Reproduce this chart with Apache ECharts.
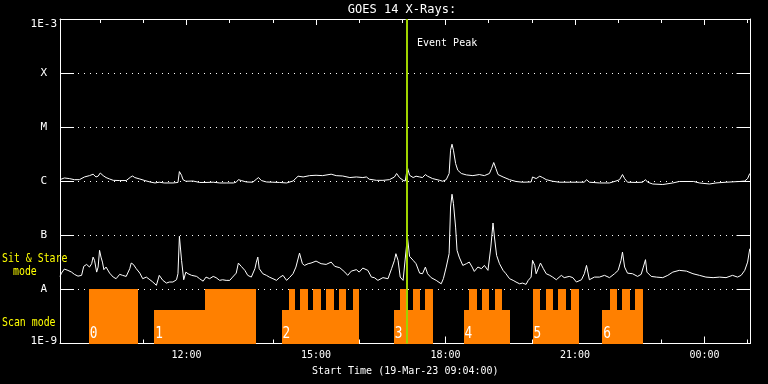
<!DOCTYPE html>
<html><head><meta charset="utf-8">
<script src="https://cdn.jsdelivr.net/npm/echarts@6/dist/echarts.min.js"></script>
<style>html,body{margin:0;padding:0;background:#000;}#c{width:768px;height:384px;}</style>
</head><body><div id="c"></div>
<script>
// time in minutes since 19-Mar-23 00:00 (values > 1440 are on 20-Mar)
const tStart = 544, tEnd = 1504;
const longTime = [544,550,557,564,571,578,585,590,594,597,600,604,608,613,618,627,636,642,645,648,655,662,669,676,682,689,701,708,710,713,715,719,729,738,747,757,766,775,785,789,792,796,803,812,817,820,824,831,840,849,859,868,875,877,882,891,900,909,921,928,937,947,956,965,970,974,984,993,1002,1009,1012,1016,1021,1024,1027,1030,1035,1039,1044,1048,1052,1055,1062,1072,1076,1081,1085,1087,1089,1091,1094,1097,1102,1109,1118,1127,1134,1141,1144,1147,1150,1153,1160,1169,1178,1187,1199,1201,1206,1211,1215,1220,1229,1238,1252,1266,1273,1276,1280,1294,1308,1317,1322,1326,1329,1333,1345,1354,1358,1361,1368,1382,1396,1405,1425,1433,1447,1456,1470,1489,1496,1500,1503];
const longFlux = [1.07e-6,1.15e-6,1.12e-6,1.07e-6,1.07e-6,1.2e-6,1.27e-6,1.35e-6,1.2e-6,1.24e-6,1.42e-6,1.27e-6,1.17e-6,1.1e-6,1.04e-6,1.03e-6,1.03e-6,1.19e-6,1.25e-6,1.17e-6,1.1e-6,1.03e-6,0.97e-6,0.93e-6,0.96e-6,0.93e-6,0.93e-6,0.95e-6,1.51e-6,1.29e-6,1.07e-6,1.0e-6,1.01e-6,0.95e-6,0.95e-6,0.96e-6,0.93e-6,0.93e-6,0.93e-6,0.96e-6,1.07e-6,1.03e-6,0.97e-6,0.96e-6,1.09e-6,1.17e-6,1.03e-6,0.97e-6,0.96e-6,0.95e-6,0.93e-6,1.01e-6,1.24e-6,1.33e-6,1.2e-6,1.27e-6,1.29e-6,1.27e-6,1.35e-6,1.27e-6,1.25e-6,1.17e-6,1.2e-6,1.17e-6,1.2e-6,1.09e-6,1.04e-6,1.04e-6,1.07e-6,1.2e-6,1.39e-6,1.17e-6,1.04e-6,1.01e-6,1.8e-6,1.29e-6,1.17e-6,1.24e-6,1.2e-6,1.17e-6,1.33e-6,1.24e-6,1.12e-6,1.04e-6,1.0e-6,1.07e-6,1.39e-6,3.75e-6,4.84e-6,3.75e-6,2.13e-6,1.6e-6,1.39e-6,1.31e-6,1.27e-6,1.33e-6,1.27e-6,1.39e-6,1.72e-6,2.22e-6,1.72e-6,1.33e-6,1.2e-6,1.07e-6,0.99e-6,0.96e-6,0.97e-6,1.2e-6,1.12e-6,1.24e-6,1.17e-6,1.07e-6,1.0e-6,0.96e-6,0.96e-6,0.96e-6,0.96e-6,1.07e-6,0.96e-6,0.93e-6,0.93e-6,1.01e-6,1.07e-6,1.33e-6,1.12e-6,0.96e-6,0.95e-6,0.96e-6,1.07e-6,0.96e-6,0.89e-6,0.87e-6,0.93e-6,0.99e-6,0.99e-6,0.93e-6,0.89e-6,0.93e-6,0.96e-6,0.99e-6,1.01e-6,1.12e-6,1.39e-6];
const shortTime = [544,546,550,555,560,564,569,574,577,581,585,588,590,592,595,597,599,601,603,605,608,613,618,622,627,631,636,641,643,646,650,655,659,664,669,673,678,682,687,692,696,701,706,708,710,712,713,716,719,722,727,734,738,743,747,752,757,761,766,770,775,780,784,789,792,796,801,805,810,815,817,819,821,826,831,835,840,845,849,854,859,863,868,872,877,881,884,889,893,900,907,914,921,926,933,940,944,949,956,960,965,972,977,981,986,993,1000,1005,1009,1011,1014,1017,1021,1023,1027,1030,1035,1039,1044,1048,1052,1055,1060,1067,1074,1077,1081,1085,1087,1089,1091,1094,1096,1099,1104,1109,1113,1117,1120,1125,1130,1134,1139,1143,1146,1148,1151,1155,1160,1164,1169,1174,1178,1183,1187,1192,1195,1199,1201,1204,1206,1208,1212,1213,1216,1220,1225,1229,1234,1241,1245,1252,1257,1262,1269,1273,1276,1278,1280,1287,1294,1301,1308,1315,1320,1324,1326,1329,1333,1340,1347,1352,1355,1358,1360,1366,1373,1382,1389,1396,1405,1415,1424,1433,1442,1452,1461,1470,1479,1486,1491,1496,1500,1503];
const shortFlux = [1.74e-8,2.0e-8,2.38e-8,2.25e-8,2.09e-8,1.9e-8,1.76e-8,1.82e-8,2.67e-8,2.9e-8,2.59e-8,2.99e-8,3.96e-8,3.45e-8,2.09e-8,2.59e-8,5.28e-8,3.96e-8,3.2e-8,2.32e-8,2.59e-8,2.0e-8,1.69e-8,1.58e-8,1.9e-8,1.82e-8,1.74e-8,2.42e-8,3.07e-8,2.9e-8,2.42e-8,2.0e-8,1.58e-8,1.69e-8,1.51e-8,1.37e-8,1.19e-8,1.82e-8,1.47e-8,1.31e-8,1.37e-8,1.37e-8,1.51e-8,1.95e-8,9.6e-8,9.3e-8,3.45e-8,1.51e-8,2.09e-8,1.95e-8,1.82e-8,1.74e-8,1.58e-8,1.42e-8,1.69e-8,1.58e-8,1.74e-8,1.65e-8,1.47e-8,1.51e-8,1.47e-8,1.47e-8,1.69e-8,2.0e-8,3.07e-8,2.67e-8,2.25e-8,1.82e-8,1.69e-8,2.42e-8,3.2e-8,3.96e-8,2.42e-8,1.95e-8,1.82e-8,1.69e-8,1.58e-8,1.47e-8,1.65e-8,1.82e-8,1.47e-8,1.65e-8,1.95e-8,2.59e-8,4.7e-8,2.99e-8,2.78e-8,2.99e-8,3.07e-8,3.34e-8,2.99e-8,2.9e-8,3.2e-8,2.67e-8,2.52e-8,2.09e-8,1.82e-8,2.18e-8,2.32e-8,2.09e-8,2.48e-8,2.25e-8,1.69e-8,1.65e-8,1.47e-8,1.65e-8,1.58e-8,2.42e-8,3.45e-8,4.58e-8,3.45e-8,1.69e-8,1.47e-8,1.47e-8,9.4e-8,4.08e-8,3.45e-8,2.99e-8,2.0e-8,1.95e-8,2.59e-8,1.95e-8,1.65e-8,1.47e-8,1.27e-8,1.58e-8,2.59e-8,4.58e-8,3.34e-7,5.75e-7,3.86e-7,1.42e-7,5.28e-8,3.96e-8,2.78e-8,2.99e-8,3.2e-8,2.59e-8,2.15e-8,2.59e-8,2.42e-8,2.78e-8,2.25e-8,6.07e-8,1.69e-7,9.3e-8,4.26e-8,2.99e-8,2.25e-8,1.95e-8,1.58e-8,1.47e-8,1.37e-8,1.27e-8,1.31e-8,1.24e-8,1.47e-8,1.69e-8,3.45e-8,2.78e-8,1.95e-8,1.82e-8,3.07e-8,3.2e-8,2.42e-8,1.95e-8,1.82e-8,1.69e-8,1.51e-8,1.82e-8,1.65e-8,1.74e-8,1.65e-8,1.37e-8,1.51e-8,1.95e-8,2.78e-8,2.59e-8,1.51e-8,1.69e-8,1.69e-8,1.82e-8,1.65e-8,1.95e-8,2.25e-8,3.45e-8,4.9e-8,2.59e-8,2.0e-8,1.95e-8,1.74e-8,1.9e-8,2.59e-8,3.55e-8,2.09e-8,1.74e-8,1.69e-8,1.65e-8,1.82e-8,2.09e-8,2.25e-8,2.18e-8,1.95e-8,1.82e-8,1.69e-8,1.65e-8,1.69e-8,1.65e-8,1.82e-8,1.69e-8,1.82e-8,2.25e-8,3.2e-8,5.66e-8];
// observing mode segments (scan mode = lower level, sit & stare = full level)
const scanStart = [675,852,1008,1105,1201,1298];
const scanEnd   = [746,960,1063,1169,1265,1354];
const stareStart = [584,746,862,878,896,914,932,951,1017,1035,1052,1113,1131,1149,1201,1219,1237,1255,1308,1325,1343];
const stareEnd   = [653,817,871,889,907,925,941,960,1028,1045,1063,1124,1141,1159,1212,1230,1247,1265,1318,1336,1354];
const scanLevel = 4.1e-9, stareLevel = 1e-8, baseLevel = 1e-9;
const blockStart = [584,675,852,1008,1105,1201,1298];
const blockLabels = ['0','1','2','3','4','5','6'];
const eventPeak = 1027;
const hourTicks = [600,660,720,780,840,900,960,1020,1080,1140,1200,1260,1320,1380,1440,1500];
const majorTicks = [720,900,1080,1260,1440];
const yTickLabels = ['1E-9','A','B','C','M','X','1E-3'];

const FONT = '"DejaVu Sans Mono", monospace';
function hhmm(v){const h=Math.floor(v/60)%24,m=Math.round(v%60);return String(h).padStart(2,'0')+':'+String(m).padStart(2,'0');}
const chart = echarts.init(document.getElementById('c'), null, {renderer:'canvas'});
const xBase = {type:'value', min:tStart, max:tEnd, splitLine:{show:false}};
const white = {color:'#fff', width:1};
const modeData = scanStart.map((s,i)=>[s, scanEnd[i], scanLevel]).concat(stareStart.map((s,i)=>[s, stareEnd[i], stareLevel]));
const lab = {color:'#fff', fontFamily:FONT, fontSize:11};
const option = {
  backgroundColor:'#000',
  animation:false,
  grid:{left:60, right:17.5, top:19, bottom:40.5},
  xAxis:[
    Object.assign({}, xBase, {position:'bottom', axisLine:{show:true, lineStyle:white},
      axisTick:{show:true, inside:true, length:7, customValues:majorTicks, lineStyle:white},
      axisLabel:{show:true, customValues:majorTicks, formatter:hhmm, color:'#fff', fontFamily:FONT, fontSize:10, margin:7},
      name:'Start Time (19-Mar-23 09:04:00)', nameLocation:'middle', nameGap:23,
      nameTextStyle:{color:'#fff', fontFamily:FONT, fontSize:10}}),
    Object.assign({}, xBase, {position:'bottom', axisLine:{show:false},
      axisTick:{show:true, inside:true, length:4, customValues:hourTicks, lineStyle:white}, axisLabel:{show:false}}),
    Object.assign({}, xBase, {position:'top', axisLine:{show:true, lineStyle:white},
      axisTick:{show:true, inside:true, length:6, customValues:majorTicks, lineStyle:white}, axisLabel:{show:false}}),
    Object.assign({}, xBase, {position:'top', axisLine:{show:false},
      axisTick:{show:true, inside:true, length:4, customValues:hourTicks, lineStyle:white}, axisLabel:{show:false}})
  ],
  yAxis:[
    {type:'log', logBase:10, min:1e-9, max:1e-3, position:'left',
      axisLine:{show:true, lineStyle:white},
      axisTick:{show:true, inside:true, length:14, lineStyle:white},
      splitLine:{show:true, lineStyle:{color:'#fff', width:1, type:[1,5]}},
      axisLabel:{color:'#fff', fontFamily:FONT, fontSize:11, margin:3,
        formatter:function(v){
          const e = Math.round(Math.log10(v));
          const s = yTickLabels[e+9];
          if (e === -3) return '{t|'+s+'}';
          if (e === -9) return '{b|'+s+'}';
          return '{l|'+s+'}';
        },
        rich:{
          l:Object.assign({padding:[0,10,0,0]}, lab),
          t:Object.assign({padding:[11,0,0,0]}, lab),
          b:Object.assign({padding:[0,0,5,0]}, lab)
        }}},
    {type:'log', logBase:10, min:1e-9, max:1e-3, position:'right',
      axisLine:{show:true, lineStyle:white},
      axisTick:{show:true, inside:true, length:14, lineStyle:white},
      splitLine:{show:false}, axisLabel:{show:false}}
  ],
  graphic:[
    {type:'text', x:402, y:10, style:{text:'GOES 14 X-Rays:', fill:'#fff', font:'12px '+FONT, align:'center', verticalAlign:'middle', textAlign:'center', textVerticalAlign:'middle'}},
    {type:'text', x:2, y:259, scaleX:0.76, style:{text:'Sit & Stare', fill:'#ffff00', font:'13px '+FONT, verticalAlign:'middle', textVerticalAlign:'middle'}},
    {type:'text', x:13, y:271.5, scaleX:0.76, style:{text:'mode', fill:'#ffff00', font:'13px '+FONT, verticalAlign:'middle', textVerticalAlign:'middle'}},
    {type:'text', x:2, y:323, scaleX:0.76, style:{text:'Scan mode', fill:'#ffff00', font:'13px '+FONT, verticalAlign:'middle', textVerticalAlign:'middle'}}
  ],
  series:[
    {type:'custom', silent:true, z:1, xAxisIndex:0, yAxisIndex:0, data:modeData, encode:{x:[0,1], y:2},
      renderItem:function(params, api){
        const p0 = api.coord([api.value(0), api.value(2)]);
        const p1 = api.coord([api.value(1), baseLevel]);
        const x0 = Math.round(p0[0]), x1 = Math.round(p1[0]), y0 = Math.round(p0[1]), y1 = Math.round(p1[1]);
        return {type:'rect', shape:{x:x0, y:y0, width:x1-x0, height:y1-y0}, style:{fill:'#ff8000'}};
      }},
    {type:'custom', silent:true, z:2, xAxisIndex:0, yAxisIndex:0, data:blockStart.map(t=>[t]), encode:{x:0},
      renderItem:function(params, api){
        const p = api.coord([api.value(0), baseLevel]);
        return {type:'text', x:p[0]+1, y:p[1]-10, scaleX:0.8, style:{text:blockLabels[params.dataIndex], fill:'#fff', font:'16px '+FONT, verticalAlign:'middle', textVerticalAlign:'middle'}};
      }},
    {type:'line', name:'long', silent:true, z:3, data:longTime.map((t,i)=>[t,longFlux[i]]), symbol:'none', showSymbol:false, lineStyle:{color:'#fff', width:1}},
    {type:'line', name:'short', silent:true, z:3, data:shortTime.map((t,i)=>[t,shortFlux[i]]), symbol:'none', showSymbol:false, lineStyle:{color:'#fff', width:1}},
    {type:'custom', silent:true, z:5, xAxisIndex:0, yAxisIndex:0, data:[[eventPeak]], encode:{x:0},
      renderItem:function(params, api){
        const top = api.coord([api.value(0), 1e-3]);
        const bot = api.coord([api.value(0), baseLevel]);
        const x = Math.round(top[0]);
        return {type:'group', children:[
          {type:'line', shape:{x1:x, y1:top[1], x2:x, y2:bot[1]}, style:{stroke:'#a0d400', lineWidth:2}},
          {type:'text', x:x+10, y:top[1]+24, style:{text:'Event Peak', fill:'#fff', font:'10px '+FONT, verticalAlign:'middle', textVerticalAlign:'middle'}}
        ]};
      }}
  ]
};
chart.setOption(option);
</script></body></html>
